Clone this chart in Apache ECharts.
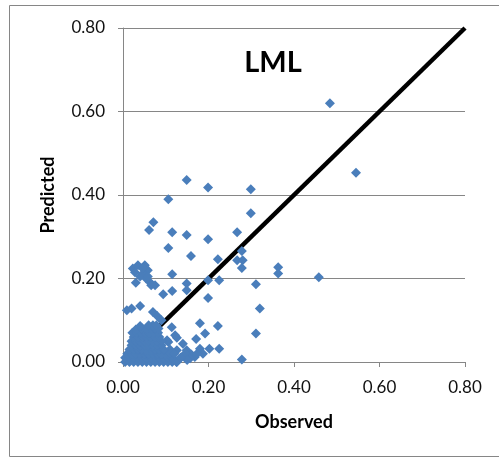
<!DOCTYPE html>
<html>
<head>
<meta charset="utf-8">
<script src="https://cdn.jsdelivr.net/npm/echarts@6/dist/echarts.min.js"></script>
<style>html,body{margin:0;padding:0;background:#fff}#c{width:499px;height:459px}</style>
</head>
<body>
<div id="c"></div>
<script>
var xTicks = [0, 0.2, 0.4, 0.6, 0.8];
var yTicks = [0, 0.2, 0.4, 0.6, 0.8];
var chartTitle = "LML";
var xName = "Observed";
var yName = "Predicted";
// 1:1 reference line
var lineX = [0.087, 0.8];
var lineY = [0.087, 0.8];
// scattered points (observed / predicted)
var obsX = [
 0.484,0.545,0.149,0.199,0.299,0.106,0.299,0.071,0.061,0.115,0.267,0.149,0.199,0.106,0.278,0.159,
 0.222,0.267,0.280,0.278,0.363,0.363,0.458,0.023,0.035,0.051,0.058,0.047,0.054,0.063,0.066,0.075,
 0.115,0.199,0.225,0.149,0.311,0.149,0.115,0.094,0.199,0.320,0.009,0.020,0.040,0.070,0.080,0.180,
 0.114,0.222,0.192,0.311,0.126,0.171,0.106,0.202,0.225,0.149,0.126,0.180,0.160,0.168,0.278,0.126,
 0.122,0.140,0.103,0.187,0.157,0.173,0.110,0.094,0.100,0.135,0.145,0.150,0.115,0.090,0.030,0.040,
 0.028,0.045,0.058
];
var obsY = [
 0.620,0.453,0.436,0.418,0.414,0.390,0.356,0.335,0.316,0.311,0.311,0.304,0.294,0.273,0.266,0.254,
 0.246,0.244,0.244,0.225,0.227,0.212,0.203,0.224,0.232,0.232,0.220,0.212,0.200,0.191,0.184,0.184,
 0.210,0.196,0.196,0.188,0.186,0.172,0.170,0.162,0.153,0.128,0.124,0.128,0.134,0.120,0.110,0.093,
 0.083,0.086,0.068,0.068,0.058,0.055,0.048,0.032,0.032,0.028,0.028,0.032,0.018,0.012,0.006,0.000,
 0.064,0.044,0.052,0.020,0.009,0.020,0.030,0.020,0.010,0.010,0.020,0.005,0.015,0.100,0.190,0.205,
 0.215,0.225,0.205
];
// dense cluster near origin
var clusterX = [
 0.005,0.015,0.025,0.035,0.045,0.055,0.065,0.075,0.085,0.095,0.105,0.115,0.125,
 0.005,0.015,0.025,0.035,0.045,0.055,0.065,0.075,0.085,0.095,0.105,0.115,0.135,
 0.010,0.020,0.030,0.040,0.050,0.060,0.070,0.080,0.090,0.100,0.110,0.120,
 0.015,0.025,0.035,0.045,0.055,0.065,0.075,0.085,0.095,
 0.020,0.030,0.040,0.050,0.060,0.070,0.080,0.090,
 0.020,0.030,0.040,0.050,0.060,0.070,0.080,0.090,
 0.025,0.035,0.045,0.055,0.065,0.075,0.085,
 0.022,0.032,0.042,0.052,0.062,0.072,0.082,
 0.030,0.045,0.055,0.065,0.075,0.083,
 0.040,0.060,0.070,0.078
];
var clusterY = [
 0.000,0.000,0.000,0.000,0.000,0.000,0.000,0.000,0.000,0.000,0.000,0.000,0.000,
 0.010,0.010,0.010,0.010,0.010,0.010,0.010,0.010,0.010,0.010,0.010,0.010,0.010,
 0.020,0.020,0.020,0.020,0.020,0.020,0.020,0.020,0.020,0.020,0.020,0.020,
 0.030,0.030,0.030,0.030,0.030,0.030,0.030,0.030,0.030,
 0.040,0.040,0.040,0.040,0.040,0.040,0.040,0.040,
 0.050,0.050,0.050,0.050,0.050,0.050,0.050,0.050,
 0.060,0.060,0.060,0.060,0.060,0.060,0.060,
 0.070,0.070,0.070,0.070,0.070,0.070,0.070,
 0.078,0.080,0.080,0.080,0.080,0.080,
 0.086,0.088,0.088,0.088
];

var pts = [];
for (var i = 0; i < obsX.length; i++) pts.push([obsX[i], obsY[i]]);
for (var j = 0; j < clusterX.length; j++) pts.push([clusterX[j], clusterY[j]]);
var linePts = [[lineX[0], lineY[0]], [lineX[1], lineY[1]]];

var gray = '#868686';
var font = 'Lato, "Open Sans", sans-serif';
var chart = echarts.init(document.getElementById('c'), null, {renderer: 'canvas'});
chart.setOption({
  animation: false,
  backgroundColor: '#fff',
  grid: {left: 123, right: 34, top: 28, bottom: 97},
  graphic: [
    {type: 'rect', shape: {x: 9.5, y: 5.5, width: 520, height: 451}, style: {fill: 'none', stroke: gray, lineWidth: 1}, z: -1},
    {type: 'text', x: 273, y: 63, style: {text: chartTitle, font: 'bold 29px ' + font, fill: '#000', textAlign: 'center', textVerticalAlign: 'middle'}}
  ],
  xAxis: {
    type: 'value', min: xTicks[0], max: xTicks[xTicks.length - 1], interval: 0.2,
    name: xName, nameLocation: 'middle', nameGap: 51,
    nameTextStyle: {fontFamily: font, fontWeight: 'bold', fontSize: 18, color: '#000'},
    axisLine: {show: true, onZero: false, lineStyle: {color: gray, width: 1}},
    axisTick: {show: true, inside: false, length: 5, lineStyle: {color: gray}},
    splitLine: {show: false},
    axisLabel: {fontFamily: font, fontSize: 17, color: '#111', margin: 17, formatter: function (v) { return v.toFixed(2); }}
  },
  yAxis: {
    type: 'value', min: yTicks[0], max: yTicks[yTicks.length - 1], interval: 0.2,
    name: yName, nameLocation: 'middle', nameGap: 66, nameRotate: 90,
    nameTextStyle: {fontFamily: font, fontWeight: 'bold', fontSize: 18, color: '#000'},
    axisLine: {show: true, onZero: false, lineStyle: {color: gray, width: 1}},
    axisTick: {show: true, inside: false, length: 5, lineStyle: {color: gray}},
    splitLine: {show: true, lineStyle: {color: gray, width: 1}},
    axisLabel: {fontFamily: font, fontSize: 17, color: '#111', margin: 18, formatter: function (v) { return v.toFixed(2); }}
  },
  series: [
    {type: 'line', data: linePts, showSymbol: false, symbol: 'none', lineStyle: {color: '#000', width: 4.5}, z: 2, silent: true},
    {type: 'scatter', data: pts, symbol: 'diamond', symbolSize: 10, itemStyle: {color: '#4A7EBB', opacity: 1}, z: 3, silent: true}
  ]
});
</script>
</body>
</html>
